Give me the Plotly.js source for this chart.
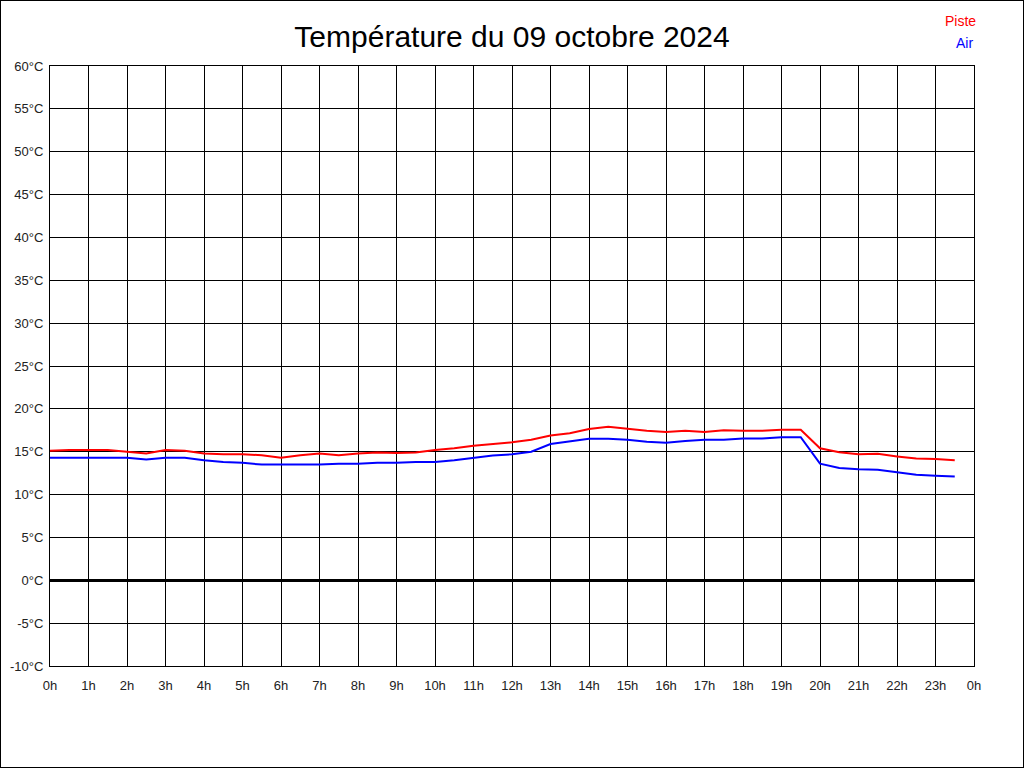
<!DOCTYPE html>
<html>
<head>
<meta charset="utf-8">
<script src="https://cdn.plot.ly/plotly-3.0.1.min.js"></script>
<style>
  body { margin: 0; background: #fff; }
  #chart { width: 1024px; height: 768px; outline: 1px solid #000; outline-offset: -1px; }
</style>
</head>
<body>
<div id="chart"></div>
<script>
// half-hour samples, hours from midnight
const hours = [0, 0.5, 1, 1.5, 2, 2.5, 3, 3.5, 4, 4.5, 5, 5.5, 6, 6.5, 7, 7.5,
  8, 8.5, 9, 9.5, 10, 10.5, 11, 11.5, 12, 12.5, 13, 13.5, 14, 14.5, 15, 15.5,
  16, 16.5, 17, 17.5, 18, 18.5, 19, 19.5, 20, 20.5, 21, 21.5, 22, 22.5, 23, 23.5];

const piste = [15.1, 15.2, 15.2, 15.2, 15.0, 14.8, 15.2, 15.1, 14.8, 14.7, 14.7, 14.6,
  14.3, 14.6, 14.8, 14.6, 14.8, 14.9, 14.85, 14.9, 15.2, 15.4, 15.7, 15.9,
  16.1, 16.4, 16.9, 17.15, 17.65, 17.9, 17.65, 17.45, 17.3, 17.45, 17.3, 17.5,
  17.45, 17.45, 17.55, 17.55, 15.4, 14.95, 14.7, 14.75, 14.45, 14.2, 14.15, 14.0];

const air = [14.3, 14.3, 14.3, 14.3, 14.3, 14.1, 14.3, 14.3, 14.0, 13.8, 13.7, 13.5,
  13.5, 13.5, 13.5, 13.6, 13.6, 13.7, 13.7, 13.8, 13.8, 14.0, 14.3, 14.55,
  14.7, 15.0, 15.9, 16.2, 16.5, 16.5, 16.4, 16.15, 16.05, 16.25, 16.4, 16.4,
  16.55, 16.55, 16.7, 16.7, 13.6, 13.1, 12.95, 12.9, 12.6, 12.3, 12.2, 12.1];

const tempTicks = [-10, -5, 0, 5, 10, 15, 20, 25, 30, 35, 40, 45, 50, 55, 60];
const tempLabels = tempTicks.map(t => t + '°C');

const hourTicks = [];
const hourLabels = [];
for (let h = 0; h <= 24; h++) {
  hourTicks.push(h);
  hourLabels.push((h % 24) + 'h');
}

const tickFont = { family: 'Liberation Sans, Arial, sans-serif', size: 13, color: '#222' };

Plotly.newPlot('chart', [
  {
    x: hours, y: air, type: 'scatter', mode: 'lines', name: 'Air',
    line: { color: 'rgb(0,0,255)', width: 2 }, hoverinfo: 'skip'
  },
  {
    x: hours, y: piste, type: 'scatter', mode: 'lines', name: 'Piste',
    line: { color: 'rgb(255,0,0)', width: 2 }, hoverinfo: 'skip'
  }
], {
  width: 1024,
  height: 768,
  margin: { l: 50, r: 50, t: 66, b: 102 },
  paper_bgcolor: 'rgba(0,0,0,0)',
  plot_bgcolor: '#fff',
  showlegend: false,
  hovermode: false,
  title: {
    text: 'Température du 09 octobre 2024',
    font: { family: 'Liberation Sans, Arial, sans-serif', size: 30, color: '#000' },
    x: 0.5, xanchor: 'center',
    yref: 'container', y: 1 - 36 / 768, yanchor: 'middle'
  },
  xaxis: {
    range: [0, 24],
    tickvals: hourTicks,
    ticktext: hourLabels,
    showgrid: true, gridcolor: '#000', gridwidth: 1,
    showline: true, linecolor: '#000', linewidth: 1, mirror: true,
    zeroline: false,
    ticks: '', ticklabelstandoff: 7,
    tickfont: tickFont
  },
  yaxis: {
    range: [-10, 60],
    tickvals: tempTicks,
    ticktext: tempLabels,
    showgrid: true, gridcolor: '#000', gridwidth: 1,
    showline: true, linecolor: '#000', linewidth: 1, mirror: true,
    zeroline: true, zerolinecolor: '#000', zerolinewidth: 3,
    ticks: '', ticklabelstandoff: 3,
    tickfont: tickFont
  },
  annotations: [
    {
      text: 'Piste', xref: 'paper', yref: 'paper',
      x: 928 / 924, y: (666 - 21) / 600, xanchor: 'right', yanchor: 'middle',
      showarrow: false, font: { family: 'Liberation Sans, Arial, sans-serif', size: 14, color: 'rgb(255,0,0)' }
    },
    {
      text: 'Air', xref: 'paper', yref: 'paper',
      x: 925 / 924, y: (666 - 43) / 600, xanchor: 'right', yanchor: 'middle',
      showarrow: false, font: { family: 'Liberation Sans, Arial, sans-serif', size: 14, color: 'rgb(0,0,255)' }
    }
  ]
}, { displayModeBar: false, staticPlot: true });
</script>
</body>
</html>
